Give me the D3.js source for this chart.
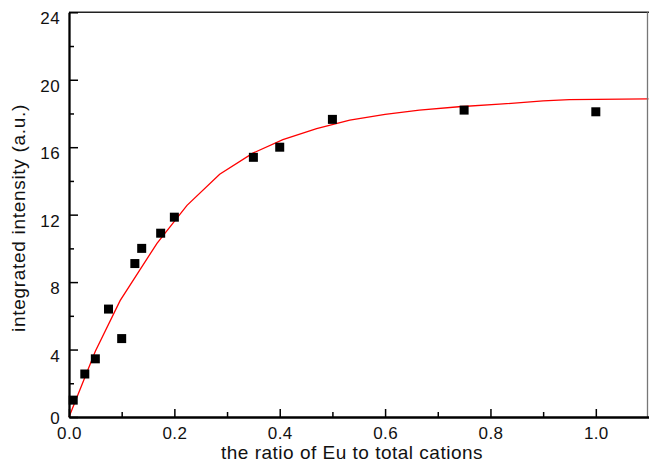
<!DOCTYPE html>
<html>
<head>
<meta charset="utf-8">
<script src="https://cdn.jsdelivr.net/npm/d3@7/dist/d3.min.js"></script>
<style>
  html, body { margin: 0; padding: 0; background: #fff; }
  svg { display: block; font-family: "Liberation Sans", Arial, Helvetica, sans-serif; }
</style>
</head>
<body>
<svg id="chart" width="649" height="464"></svg>
<script>
// Measured integrated intensity vs Eu fraction
const ratio     = [0.008, 0.03, 0.05, 0.075, 0.1, 0.125, 0.138, 0.174, 0.2, 0.35, 0.4, 0.5, 0.75, 1.0];
const intensity = [1.0, 2.55, 3.45, 6.4, 4.65, 9.1, 10.0, 10.9, 11.85, 15.4, 16.0, 17.65, 18.2, 18.1];

// Fitted saturation curve (polyline vertices)
const fitX = [0, 0.05, 0.097, 0.167, 0.224, 0.286, 0.349, 0.406, 0.47, 0.533, 0.6, 0.665, 0.74, 0.817, 0.9, 0.95, 1.0, 1.1];
const fitY = [0, 3.9, 6.9, 10.3, 12.55, 14.4, 15.65, 16.45, 17.1, 17.6, 17.95, 18.2, 18.4, 18.55, 18.75, 18.82, 18.84, 18.86];

const xTicks = [0, 0.2, 0.4, 0.6, 0.8, 1.0];
const xMinor = [0.1, 0.3, 0.5, 0.7, 0.9];
const yTicks = [0, 4, 8, 12, 16, 20, 24];
const yMinor = [2, 6, 10, 14, 18, 22];

const svg = d3.select("#chart");
const mLeft = 69, mRight = 648.5, mTop = 12.3, mBottom = 417;

const x = d3.scaleLinear().domain([0, 1.1]).range([mLeft, mRight]);
const y = d3.scaleLinear().domain([0, 24]).range([mBottom, mTop]);

// fitted curve
const line = d3.line().x((d, i) => x(fitX[i])).y((d, i) => y(fitY[i]));
svg.append("path").datum(fitY).attr("d", line)
  .attr("fill", "none").attr("stroke", "#ff0000").attr("stroke-width", 1.3);

// frame: top and right edges
svg.append("line").attr("x1", mLeft).attr("x2", 649).attr("y1", mTop).attr("y2", mTop)
  .attr("stroke", "#222").attr("stroke-width", 1.6);
svg.append("line").attr("x1", 647.5).attr("x2", 647.5).attr("y1", mTop).attr("y2", mBottom)
  .attr("stroke", "#777").attr("stroke-width", 1.3);

// bottom axis, ticks pointing inward
svg.append("g").attr("transform", `translate(0,${mBottom})`)
  .call(d3.axisBottom(x).tickValues(xTicks).tickSizeInner(-8).tickSizeOuter(0).tickPadding(10)
    .tickFormat(d3.format(".1f")));
svg.append("g").attr("transform", `translate(0,${mBottom})`)
  .call(d3.axisBottom(x).tickValues(xMinor).tickSizeInner(-5).tickSizeOuter(0).tickFormat(""))
  .call(g => g.select(".domain").remove());

// left axis, ticks pointing inward
const gy = svg.append("g").attr("transform", `translate(${mLeft},0)`)
  .call(d3.axisLeft(y).tickValues(yTicks).tickSizeInner(-9).tickSizeOuter(0).tickPadding(9)
    .tickFormat(d3.format("d")));
gy.selectAll(".tick text").attr("y", (d) => (d === 0 ? 1 : 6));
svg.append("g").attr("transform", `translate(${mLeft},0)`)
  .call(d3.axisLeft(y).tickValues(yMinor).tickSizeInner(-5).tickSizeOuter(0).tickFormat(""))
  .call(g => g.select(".domain").remove());

svg.selectAll(".domain").attr("stroke", "#000").attr("stroke-width", 2.3);
svg.selectAll(".tick line").attr("stroke", "#000").attr("stroke-width", 1.5);
svg.selectAll(".tick text").attr("font-size", 17).attr("fill", "#111")
  .attr("letter-spacing", 0.4)
  .attr("font-family", "Liberation Sans, Arial, sans-serif");

// data markers
const sz = 9;
svg.selectAll("rect.pt").data(ratio).enter().append("rect").attr("class", "pt")
  .attr("x", (d) => x(d) - sz / 2)
  .attr("y", (d, i) => y(intensity[i]) - sz / 2)
  .attr("width", sz).attr("height", sz).attr("fill", "#000");

// axis titles
svg.append("text").attr("x", 352).attr("y", 459).attr("text-anchor", "middle")
  .attr("font-size", 19).attr("letter-spacing", 0.5).attr("fill", "#111")
  .text("the ratio of Eu to total cations");
svg.append("text").attr("transform", "translate(25,218) rotate(-90)").attr("text-anchor", "middle")
  .attr("font-size", 19).attr("letter-spacing", 0.7).attr("fill", "#111")
  .text("integrated intensity (a.u.)");
</script>
</body>
</html>
